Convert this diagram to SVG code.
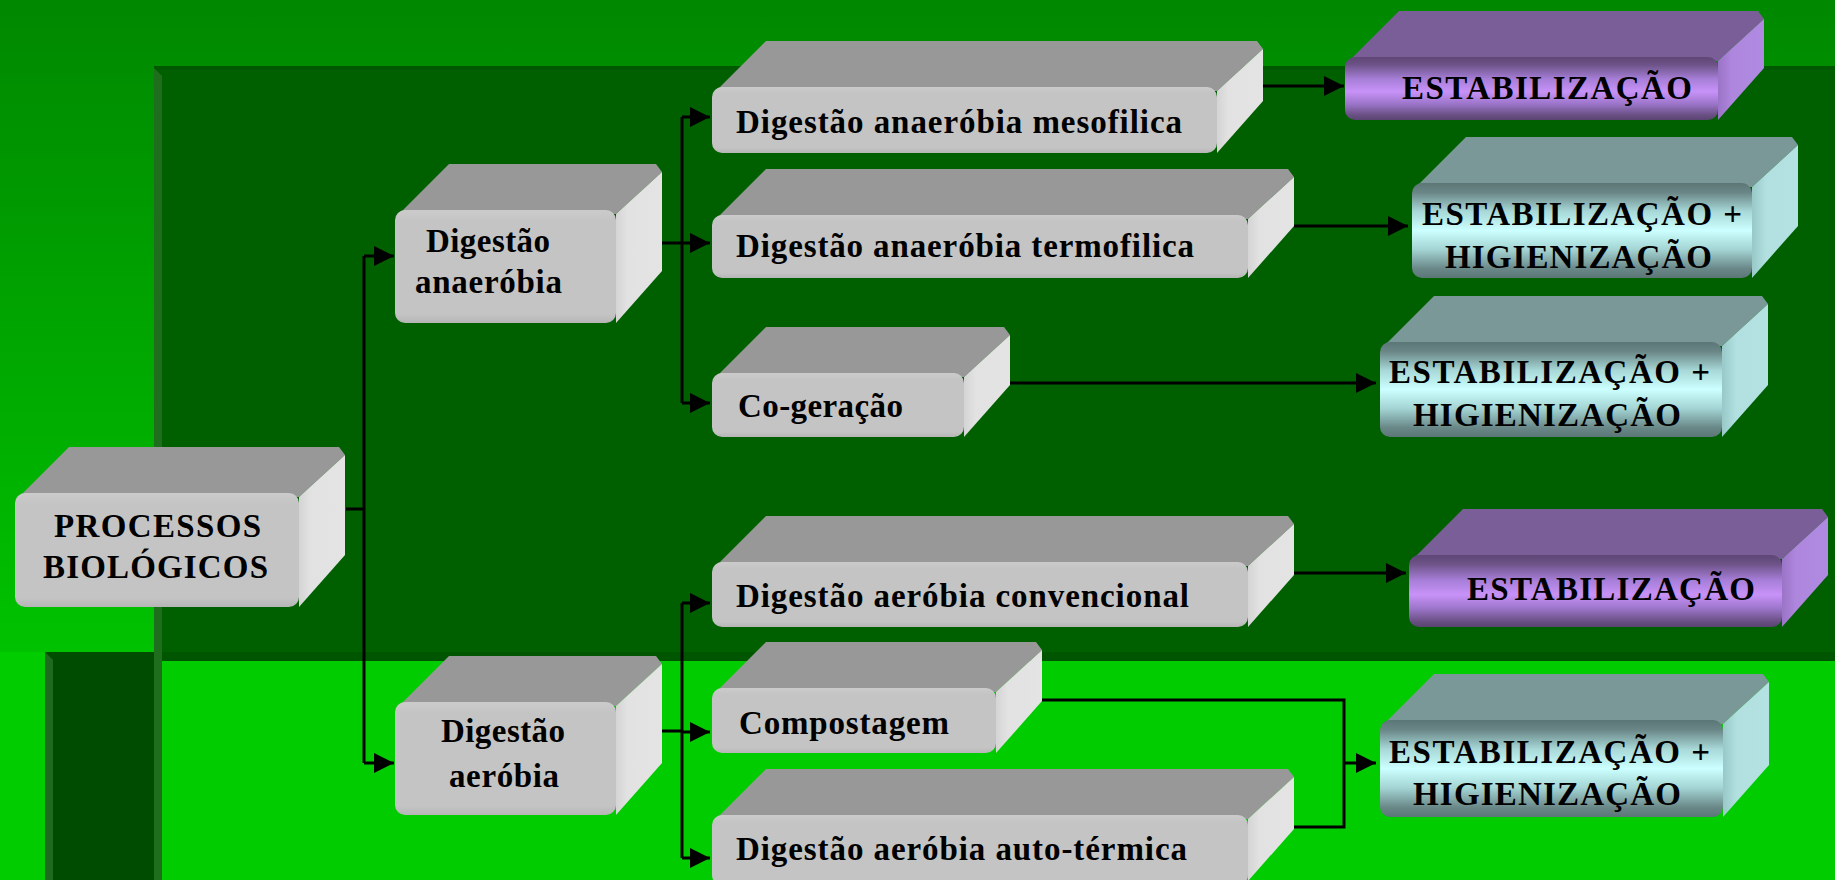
<svg xmlns="http://www.w3.org/2000/svg" width="1835" height="880" viewBox="0 0 1835 880">
<style>
.t{font-family:"Liberation Serif","Times New Roman",serif;font-weight:bold;font-size:33px;fill:#000}
.top-g{fill:#989898}.side-g{fill:url(#gSide)}.front-g{fill:url(#gFront)}
.top-p{fill:#7a5e98}.side-p{fill:url(#pSide)}.front-p{fill:url(#pFront)}
.top-c{fill:#7a9898}.side-c{fill:url(#cSide)}.front-c{fill:url(#cFront)}
.conn{fill:none;stroke:#000;stroke-width:3}
.arr{fill:none;stroke:#000;stroke-width:3;marker-end:url(#ah)}
</style>
<defs>
<linearGradient id="bg" gradientUnits="userSpaceOnUse" x1="0" y1="0" x2="0" y2="652">
<stop offset="0" stop-color="#008800"/><stop offset="1" stop-color="#00c200"/>
</linearGradient>
<linearGradient id="gFront" x1="0" y1="0" x2="0" y2="1">
<stop offset="0" stop-color="#cbcbcb"/><stop offset="0.1" stop-color="#c4c4c4"/><stop offset="0.92" stop-color="#c4c4c4"/><stop offset="1" stop-color="#b6b6b6"/>
</linearGradient>
<linearGradient id="gSide" x1="0" y1="0" x2="1" y2="0">
<stop offset="0" stop-color="#d4d4d4"/><stop offset="0.25" stop-color="#e2e2e2"/><stop offset="1" stop-color="#e4e4e4"/>
</linearGradient>
<linearGradient id="pFront" x1="0" y1="0" x2="0" y2="1">
<stop offset="0" stop-color="#5e4676"/><stop offset="0.12" stop-color="#6c5286"/><stop offset="0.35" stop-color="#a67ed8"/><stop offset="0.55" stop-color="#c892f8"/><stop offset="0.75" stop-color="#9a74c8"/><stop offset="0.92" stop-color="#6a5084"/><stop offset="1" stop-color="#5a4472"/>
</linearGradient>
<linearGradient id="pSide" x1="0" y1="0" x2="1" y2="0">
<stop offset="0" stop-color="#9a74c6"/><stop offset="0.3" stop-color="#ae86de"/><stop offset="1" stop-color="#b08ae2"/>
</linearGradient>
<linearGradient id="cFront" x1="0" y1="0" x2="0" y2="1">
<stop offset="0" stop-color="#5c7676"/><stop offset="0.1" stop-color="#6a8686"/><stop offset="0.3" stop-color="#a8d8d8"/><stop offset="0.5" stop-color="#ccffff"/><stop offset="0.7" stop-color="#a4d4d4"/><stop offset="0.9" stop-color="#6a8888"/><stop offset="1" stop-color="#5c7676"/>
</linearGradient>
<linearGradient id="cSide" x1="0" y1="0" x2="1" y2="0">
<stop offset="0" stop-color="#98c8c8"/><stop offset="0.3" stop-color="#b2e0e0"/><stop offset="1" stop-color="#b4e2e2"/>
</linearGradient>
<marker id="ah" markerUnits="userSpaceOnUse" markerWidth="20" markerHeight="20" refX="20" refY="10" orient="auto">
<path d="M0,0 L20,10 L0,20 Z" fill="#000"/>
</marker>
</defs>

<g id="background">
<rect x="0" y="0" width="1835" height="880" fill="url(#bg)"/>
<rect x="0" y="652" width="1835" height="228" fill="#00cc00"/>
<rect x="45" y="652" width="109" height="228" fill="#004c00"/>
<polygon points="45,652 53,660 53,880 45,880" fill="#1e6a1e"/>
<rect x="154" y="68" width="1681" height="593" fill="#006000"/>
<rect x="154" y="66" width="1681" height="4" fill="#005800"/>
<rect x="162" y="652" width="1673" height="9" fill="#005600"/>
<polygon points="154,68 162,76 162,880 154,880" fill="#1e6e1e"/>
</g>

<g id="connectors">
<path class="conn" d="M346,509 H364 M364,256 V763"/>
<path class="arr" d="M364,256 H394"/>
<path class="arr" d="M364,763 H394"/>
<path class="conn" d="M662,243 H682 M682,117 V403"/>
<path class="arr" d="M682,117 H710"/>
<path class="arr" d="M682,243 H710"/>
<path class="arr" d="M682,403 H710"/>
<path class="conn" d="M662,731 H682 M682,603 V858"/>
<path class="arr" d="M682,603 H710"/>
<path class="arr" d="M682,732 H710"/>
<path class="arr" d="M682,858 H710"/>
<path class="arr" d="M1263,86 H1344"/>
<path class="arr" d="M1294,226 H1408"/>
<path class="arr" d="M1010,383 H1376"/>
<path class="arr" d="M1294,573 H1406"/>
<path class="conn" d="M1042,700 H1344 V827 H1294"/>
<path class="arr" d="M1344,763 H1376"/>
</g>

<g id="n-processos">
<path class="top-g" d="M19,497 L69,447 L339,447 L345,455 L299,497 Z"/>
<path class="side-g" d="M299,497 L345,455 L345,555 L299,607 Z"/>
<rect class="front-g" x="15" y="493" width="284" height="114" rx="10"/>
<text class="t" x="54" y="537" textLength="207">PROCESSOS</text>
<text class="t" x="43" y="578" textLength="225">BIOLÓGICOS</text>
</g>

<g id="n-dig-anaerobia">
<path class="top-g" d="M399,214 L449,164 L656,164 L662,172 L616,214 Z"/>
<path class="side-g" d="M616,214 L662,172 L662,271 L616,323 Z"/>
<rect class="front-g" x="395" y="210" width="221" height="113" rx="10"/>
<text class="t" x="426" y="252" textLength="124">Digestão</text>
<text class="t" x="415" y="293" textLength="147">anaeróbia</text>
</g>

<g id="n-dig-aerobia">
<path class="top-g" d="M399,706 L449,656 L656,656 L662,664 L616,706 Z"/>
<path class="side-g" d="M616,706 L662,664 L662,763 L616,815 Z"/>
<rect class="front-g" x="395" y="702" width="221" height="113" rx="10"/>
<text class="t" x="441" y="742" textLength="124">Digestão</text>
<text class="t" x="449" y="787" textLength="110">aeróbia</text>
</g>

<g id="n-mesofilica">
<path class="top-g" d="M716,91 L766,41 L1257,41 L1263,49 L1217,91 Z"/>
<path class="side-g" d="M1217,91 L1263,49 L1263,101 L1217,153 Z"/>
<rect class="front-g" x="712" y="87" width="505" height="66" rx="10"/>
<text class="t" x="736" y="133" textLength="446">Digestão anaeróbia mesofilica</text>
</g>

<g id="n-termofilica">
<path class="top-g" d="M716,219 L766,169 L1288,169 L1294,177 L1248,219 Z"/>
<path class="side-g" d="M1248,219 L1294,177 L1294,226 L1248,278 Z"/>
<rect class="front-g" x="712" y="215" width="536" height="63" rx="10"/>
<text class="t" x="736" y="257" textLength="458">Digestão anaeróbia termofilica</text>
</g>

<g id="n-cogeracao">
<path class="top-g" d="M716,377 L766,327 L1004,327 L1010,335 L964,377 Z"/>
<path class="side-g" d="M964,377 L1010,335 L1010,385 L964,437 Z"/>
<rect class="front-g" x="712" y="373" width="252" height="64" rx="10"/>
<text class="t" x="738" y="417" textLength="165">Co-geração</text>
</g>

<g id="n-convencional">
<path class="top-g" d="M716,566 L766,516 L1288,516 L1294,524 L1248,566 Z"/>
<path class="side-g" d="M1248,566 L1294,524 L1294,575 L1248,627 Z"/>
<rect class="front-g" x="712" y="562" width="536" height="65" rx="10"/>
<text class="t" x="736" y="607" textLength="453">Digestão aeróbia convencional</text>
</g>

<g id="n-compostagem">
<path class="top-g" d="M716,692 L766,642 L1036,642 L1042,650 L996,692 Z"/>
<path class="side-g" d="M996,692 L1042,650 L1042,701 L996,753 Z"/>
<rect class="front-g" x="712" y="688" width="284" height="65" rx="10"/>
<text class="t" x="739" y="734" textLength="210">Compostagem</text>
</g>

<g id="n-autotermica">
<path class="top-g" d="M716,819 L766,769 L1288,769 L1294,777 L1248,819 Z"/>
<path class="side-g" d="M1248,819 L1294,777 L1294,829 L1248,881 Z"/>
<rect class="front-g" x="712" y="815" width="536" height="70" rx="10"/>
<text class="t" x="736" y="860" textLength="451">Digestão aeróbia auto-térmica</text>
</g>

<g id="n-estab-1">
<path class="top-p" d="M1349,61 L1399,11 L1758,11 L1764,19 L1718,61 Z"/>
<path class="side-p" d="M1718,61 L1764,19 L1764,68 L1718,120 Z"/>
<rect class="front-p" x="1345" y="57" width="373" height="63" rx="10"/>
<text class="t" x="1402" y="99" textLength="290">ESTABILIZAÇÃO</text>
</g>

<g id="n-estab-hig-1">
<path class="top-c" d="M1416,187 L1466,137 L1792,137 L1798,145 L1752,187 Z"/>
<path class="side-c" d="M1752,187 L1798,145 L1798,226 L1752,278 Z"/>
<rect class="front-c" x="1412" y="183" width="340" height="95" rx="10"/>
<text class="t" x="1422" y="225" textLength="320">ESTABILIZAÇÃO +</text>
<text class="t" x="1445" y="268" textLength="267">HIGIENIZAÇÃO</text>
</g>

<g id="n-estab-hig-2">
<path class="top-c" d="M1384,346 L1434,296 L1762,296 L1768,304 L1722,346 Z"/>
<path class="side-c" d="M1722,346 L1768,304 L1768,385 L1722,437 Z"/>
<rect class="front-c" x="1380" y="342" width="342" height="95" rx="10"/>
<text class="t" x="1389" y="383" textLength="321">ESTABILIZAÇÃO +</text>
<text class="t" x="1413" y="426" textLength="268">HIGIENIZAÇÃO</text>
</g>

<g id="n-estab-2">
<path class="top-p" d="M1413,559 L1463,509 L1822,509 L1828,517 L1782,559 Z"/>
<path class="side-p" d="M1782,559 L1828,517 L1828,575 L1782,627 Z"/>
<rect class="front-p" x="1409" y="555" width="373" height="72" rx="10"/>
<text class="t" x="1467" y="600" textLength="288">ESTABILIZAÇÃO</text>
</g>

<g id="n-estab-hig-3">
<path class="top-c" d="M1384,724 L1434,674 L1763,674 L1769,682 L1723,724 Z"/>
<path class="side-c" d="M1723,724 L1769,682 L1769,765 L1723,817 Z"/>
<rect class="front-c" x="1380" y="720" width="343" height="97" rx="10"/>
<text class="t" x="1389" y="763" textLength="321">ESTABILIZAÇÃO +</text>
<text class="t" x="1413" y="805" textLength="268">HIGIENIZAÇÃO</text>
</g>
</svg>
